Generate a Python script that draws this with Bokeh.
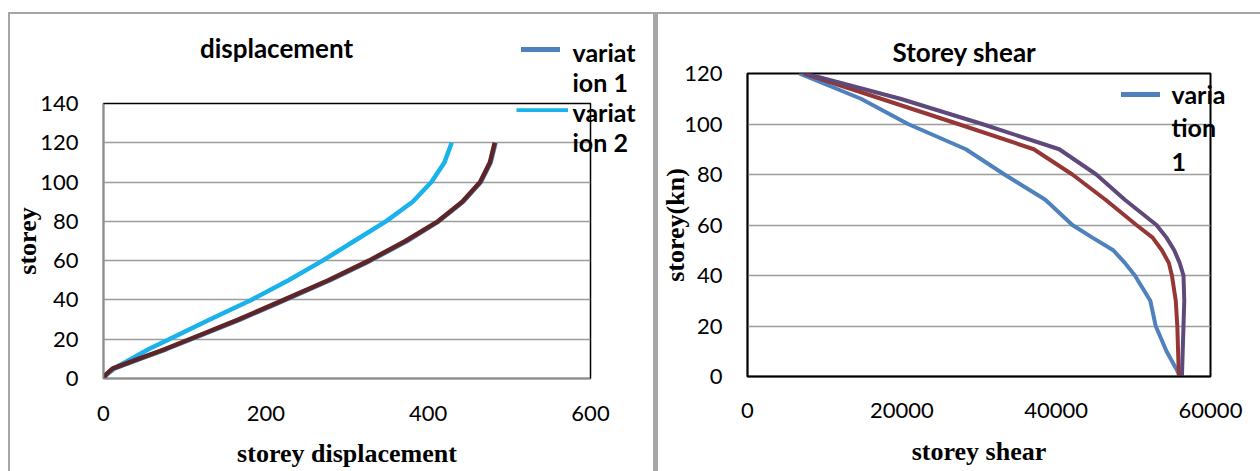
from bokeh.plotting import figure
from bokeh.models import Legend, LegendItem, Label, Spacer
from bokeh.layouts import row, column
from bokeh.embed import file_html
from bokeh.resources import INLINE

# ---- storey displacement data ----
disp_storey = [0, 2, 5, 10, 15, 20, 30, 40, 50, 60, 70, 80, 90, 100, 110, 120]
disp_var1 = [0, 4, 13, 45, 78, 108, 168, 224, 279, 329, 374, 413, 443, 465, 477, 483]
disp_var2 = [0, 3, 12, 34, 56, 81, 131, 182, 228, 270, 309, 348, 381, 404, 420, 429]
disp_var3 = [0, 3, 11, 43, 76, 106, 166, 222, 277, 327, 372, 412, 442, 464, 476, 482]
disp_xticks = [0, 200, 400, 600]
disp_yticks = [0, 20, 40, 60, 80, 100, 120, 140]

# ---- storey shear data ----
shear_storey = [0, 10, 20, 30, 40, 45, 50, 55, 60, 70, 80, 90, 100, 110, 120]
shear_var1 = [56100, 54300, 52900, 52200, 50200, 48900, 47400, 44700, 42100, 38600, 33300, 28300, 20800, 14700, 6700]
shear_var2 = [55900, 55800, 55700, 55500, 55000, 54600, 53700, 52500, 50400, 46400, 42100, 37100, 27300, 17300, 7300]
shear_var3 = [56300, 56400, 56500, 56600, 56500, 56000, 55300, 54300, 53000, 48900, 45200, 40400, 30400, 19800, 7500]
shear_xticks = [0, 20000, 40000, 60000]
shear_yticks = [0, 20, 40, 60, 80, 100, 120]

SANS = "Lato"
SERIF = "Liberation Serif"
PANEL_BORDER = "#a6a6a6"
GRID = "#9c9c9c"
CANVAS_H = 634
VAR1_COLOR = "#4F81BD"


def style_axes(p, axis_color):
    for ax in (p.xaxis, p.yaxis):
        ax.major_tick_in = 0
        ax.major_tick_out = 0
        ax.minor_tick_in = 0
        ax.minor_tick_out = 0
        ax.major_label_text_font = SANS
        ax.major_label_text_font_size = "22px"
        ax.major_label_text_color = "black"
        ax.axis_label_text_font = SERIF
        ax.axis_label_text_font_style = "bold"
        ax.axis_label_text_font_size = "26px"
        ax.axis_label_text_color = "black"
        ax.axis_line_color = axis_color
        ax.axis_line_width = 1.5


def canvas_text(x, y, text, size="25px", align="left", line_height=1.2):
    return Label(x=x, y=y, x_units="canvas", y_units="canvas", text=text,
                 text_align=align, text_baseline="middle", text_font=SANS,
                 text_font_style="bold", text_font_size=size, text_color="black",
                 text_line_height=line_height)


def key_strip(x, y, color):
    # thin filled strip used as a key sample outside the plot box
    return Label(x=x, y=y, x_units="canvas", y_units="canvas", text="\u2003" * 13,
                 text_font=SANS, text_font_size="4px", text_align="center",
                 text_baseline="middle", background_fill_color=color)


def key_line(renderer, location):
    # legend entry showing only the line sample; its words are drawn as a label
    return Legend(items=[LegendItem(label=" ", renderers=[renderer])], location=location,
                  glyph_width=52, glyph_height=4, label_height=4, label_width=0,
                  label_standoff=0, padding=0, margin=0, label_text_font_size="1px",
                  background_fill_alpha=0, border_line_alpha=0)


# ---------------- displacement chart ----------------
p1 = figure(width=643, height=CANVAS_H, x_range=(0, 600), y_range=(0, 140),
            output_backend="svg", toolbar_location=None,
            min_border_left=91, min_border_right=63, min_border_top=89,
            min_border_bottom=CANVAS_H - 364)
p1.outline_line_color = "black"
p1.outline_line_width = 1.5
p1.xaxis.ticker = disp_xticks
p1.yaxis.ticker = disp_yticks
p1.xgrid.visible = False
p1.ygrid.ticker = disp_yticks[1:-1]
p1.ygrid.grid_line_color = GRID
p1.ygrid.grid_line_width = 1.5
style_axes(p1, "#8c8c8c")
p1.xaxis.axis_label = "storey displacement"
p1.yaxis.axis_label = "storey"
p1.xaxis.major_label_standoff = 27
p1.xaxis.axis_label_standoff = 15
p1.yaxis.major_label_standoff = 25
p1.yaxis.axis_label_standoff = -5

r1 = p1.line(disp_var1, disp_storey, line_color=VAR1_COLOR, line_width=4.5)
r2 = p1.line(disp_var2, disp_storey, line_color="#1AB2EA", line_width=4.5)
r3 = p1.line(disp_var3, disp_storey, line_color="#5E2526", line_width=4.5)

p1.add_layout(key_strip(530, 35, VAR1_COLOR), "above")
p1.add_layout(key_line(r2, (413, 266)))
p1.add_layout(canvas_text(266, 33, "displacement", size="26px", align="center"), "below")
p1.add_layout(canvas_text(562, 82.5, "variat\nion 1\nvariat\nion 2", line_height=0.99), "below")

# ---------------- storey shear chart ----------------
p2 = figure(width=602, height=CANVAS_H, x_range=(0, 60000), y_range=(0, 120),
            output_backend="svg", toolbar_location=None,
            min_border_left=88, min_border_right=50, min_border_top=59,
            min_border_bottom=CANVAS_H - 362)
p2.outline_line_color = "black"
p2.outline_line_width = 2
p2.xaxis.ticker = shear_xticks
p2.yaxis.ticker = shear_yticks
p2.xgrid.visible = False
p2.ygrid.ticker = shear_yticks[1:-1]
p2.ygrid.grid_line_color = GRID
p2.ygrid.grid_line_width = 1.5
style_axes(p2, "black")
p2.xaxis.axis_label = "storey shear"
p2.yaxis.axis_label = "storey(kn)"
p2.xaxis.major_label_standoff = 26
p2.xaxis.axis_label_standoff = 16
p2.yaxis.major_label_standoff = 25
p2.yaxis.axis_label_standoff = -9

s1 = p2.line(shear_var1, shear_storey, line_color=VAR1_COLOR, line_width=4)
s2 = p2.line(shear_var2, shear_storey, line_color="#953735", line_width=4)
s3 = p2.line(shear_var3, shear_storey, line_color="#5F497A", line_width=4)

p2.add_layout(canvas_text(306, 37, "Storey shear", size="26px", align="center"), "above")
p2.add_layout(key_strip(482, 80, VAR1_COLOR), "above")
p2.add_layout(canvas_text(513, 113, "varia\ntion\n1", line_height=1.13), "below")

# the two plot boxes sit at different heights, so keep their frames independent
for p in (p1, p2):
    if "frame_align" in p.properties():
        p.frame_align = False

border = {"background-color": PANEL_BORDER}
top_edge = row(Spacer(width=8, height=2), Spacer(width=1252, height=2, styles=border))
panels = row(Spacer(width=8, height=CANVAS_H), Spacer(width=2, height=CANVAS_H, styles=border), p1,
             Spacer(width=5, height=CANVAS_H, styles=border), p2)
layout = column(Spacer(width=1260, height=12), top_edge, panels)
open("out.html", "w").write(file_html(layout, INLINE))
